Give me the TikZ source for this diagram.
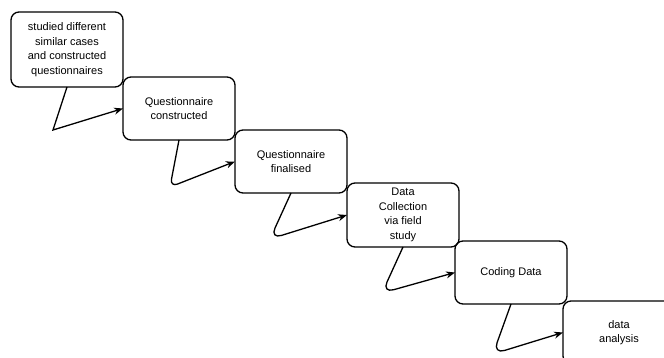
\documentclass[tikz,border=0pt]{standalone}
\usepackage{fontspec}
\setmainfont{Liberation Sans}
\usetikzlibrary{arrows.meta,positioning}

\begin{document}
\begin{tikzpicture}[x=1pt,y=1pt,
  box/.style={draw,line width=1.3pt,rounded corners=8pt,align=center,
    minimum width=112pt,minimum height=63pt,inner sep=0pt,outer sep=0pt,
    font=\fontsize{11}{14.5}\selectfont},
  flow/.style={-{Stealth[length=9pt,width=7pt]},line width=1.3pt},
  curvedflow/.style={flow,rounded corners=12pt}
]
  \path[use as bounding box,clip] (0,0) rectangle (664,-358);
  \node[box,minimum height=75pt,anchor=north west] (studied) at (11,-12)
    {studied different\\similar cases\\and constructed\\questionnaires};
  \node[box,below right=-10pt and 0pt of studied] (constructed) {Questionnaire\\constructed};
  \node[box,below right=-10pt and 0pt of constructed] (finalised) {Questionnaire\\finalised};
  \node[box,below right=-10pt and 0pt of finalised,minimum height=64pt] (collection)
    {Data\\Collection\\via field\\study};
  \node[box,below right=-6pt and -4pt of collection] (coding) {Coding Data};
  \node[box,below right=-3pt and -4pt of coding] (analysis) {data\\analysis};
  \draw[flow] (studied.south) -- ++(-14,-43) -- (constructed.west);
  \draw[flow,rounded corners=8pt] (constructed.south) -- ++(-9,-47) -- (finalised.west);
  \draw[curvedflow] (finalised.south) -- ++(-21,-46) -- (collection.west);
  \draw[curvedflow] (collection.south) -- ++(-21,-46) -- (coding.west);
  \draw[curvedflow] (coding.south) -- ++(-18,-50) -- (analysis.west);
\end{tikzpicture}
\end{document}
